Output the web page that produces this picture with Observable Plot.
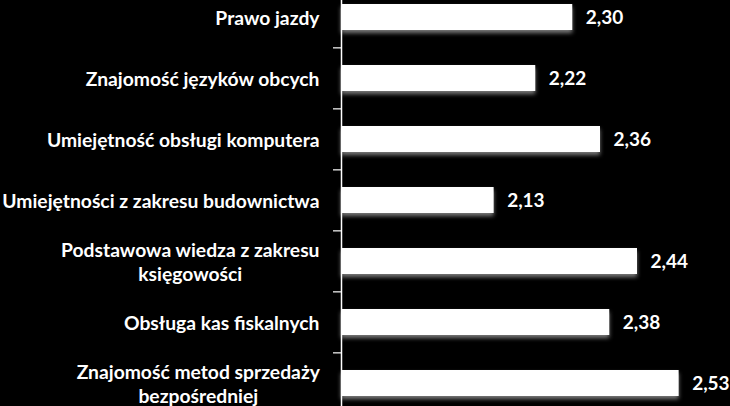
<!DOCTYPE html>
<html>
<head>
<meta charset="utf-8">
<script src="https://cdn.jsdelivr.net/npm/d3@7"></script>
<script src="https://cdn.jsdelivr.net/npm/@observablehq/plot@0.6"></script>
<style>
  html, body { margin: 0; padding: 0; background: #000; }
  #chart { width: 730px; height: 406px; overflow: hidden; }
</style>
</head>
<body>
<div id="chart"></div>
<script>
const categories = [
  "Prawo jazdy",
  "Znajomość języków obcych",
  "Umiejętność obsługi komputera",
  "Umiejętności z zakresu budownictwa",
  "Podstawowa wiedza z zakresu\nksięgowości",
  "Obsługa kas fiskalnych",
  "Znajomość metod sprzedaży\nbezpośredniej"
];
const values = [2.30, 2.22, 2.36, 2.13, 2.44, 2.38, 2.53];
const xDomain = [1.8, 2.6];

const data = categories.map((c, i) => ({category: c, value: values[i]}));
const fmt = v => v.toFixed(2).replace(".", ",");
const FONT = "Lato, 'Open Sans', sans-serif";
const step = 429 / 7;

const chart = Plot.plot({
  width: 730,
  height: 406,
  marginTop: 0, marginBottom: 0, marginLeft: 0, marginRight: 0,
  style: {background: "#000", color: "#fff", fontFamily: FONT},
  x: {domain: xDomain, range: [341, 711], axis: null},
  y: {domain: categories, range: [-15, 414], paddingInner: 0.58, paddingOuter: 0.29, axis: null},
  marks: [
    Plot.barX(data, {y: "category", x1: xDomain[0], x2: "value", fill: "#fff"}),
    Plot.axisY({tickSize: 8, tickFormat: () => "", label: null, stroke: "#fff", strokeWidth: 1.2, dy: -step / 2, x: xDomain[0]}),
    Plot.ruleX([xDomain[0]], {stroke: "#fff", strokeWidth: 1.5}),
    Plot.text(data, {y: "category", x: xDomain[0], text: "category", dx: -22, textAnchor: "end",
      fill: "#fff", fontSize: 19.3, fontWeight: "bold", lineHeight: 1.2}),
    Plot.text(data, {y: "category", x: "value", text: d => fmt(d.value), dx: 13, textAnchor: "start",
      fill: "#fff", fontSize: 19, fontWeight: "bold"})
  ]
});
document.getElementById("chart").appendChild(chart);

// soft shadow under bars
const svg = d3.select(chart);
const defs = svg.insert("defs", ":first-child");
const f = defs.append("filter").attr("id", "barShadow").attr("x", "-5%").attr("y", "-20%").attr("width", "110%").attr("height", "160%");
f.append("feDropShadow").attr("dx", 0).attr("dy", 3).attr("stdDeviation", 2).attr("flood-color", "#9a9a9a").attr("flood-opacity", 0.8);
svg.select("g[aria-label='bar']").attr("filter", "url(#barShadow)");

// center the lines of wrapped category labels within their block
const textGroups = svg.selectAll("g[aria-label='text']").nodes();
d3.select(textGroups[0]).selectAll("text").each(function() {
  const t = d3.select(this);
  const spans = t.selectAll("tspan");
  if (spans.size() > 1) {
    const bbox = this.getBBox();
    const cx = bbox.x + bbox.width / 2;
    t.attr("text-anchor", "middle");
    spans.attr("x", cx - (+t.attr("x") || 0));
  }
});
</script>
</body>
</html>
